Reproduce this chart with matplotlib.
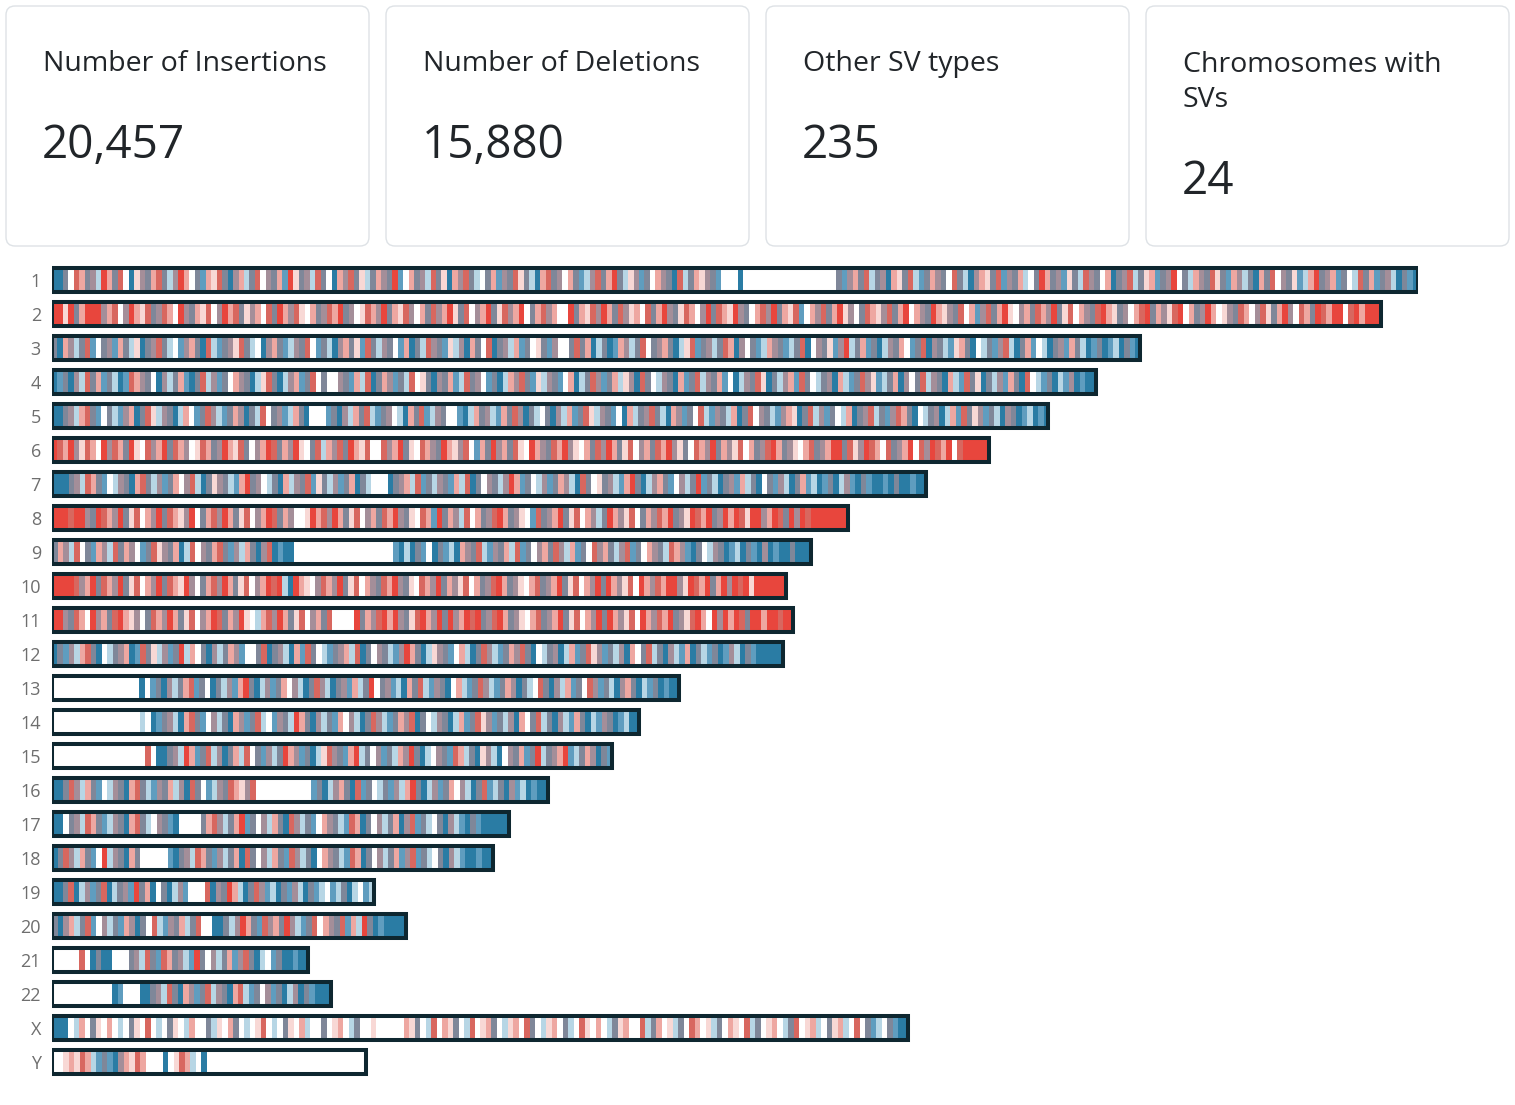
import numpy as np
import matplotlib.pyplot as plt
from matplotlib.colors import ListedColormap
from matplotlib.patches import FancyBboxPatch, Rectangle

plt.rcParams['font.family'] = ['Open Sans', 'DejaVu Sans']

# summary cards
card_titles = ["Number of Insertions", "Number of Deletions", "Other SV types", "Chromosomes with\nSVs"]
card_values = ["20,457", "15,880", "235", "24"]

# chromosomes and their lengths (Mb)
chrom_names = [str(i) for i in range(1, 23)] + ["X", "Y"]
chrom_lengths = [248.96, 242.19, 198.30, 190.21, 181.54, 170.81, 159.35, 145.14,
                 138.39, 133.80, 135.09, 133.28, 114.36, 107.04, 101.99, 90.34,
                 83.26, 80.37, 58.62, 64.44, 46.71, 50.82, 156.04, 57.23]

# binned SV profile, ~1 Mb per character
# B/b/c = insertion heavy (dark..light blue), g/m = mixed, r/R/p/q = deletion heavy, w = none
chrom_bins = [
    # 1
    "BBgwrpgmcR pgrwBqmgpr gcmRpwgbpq rgBmpcgrwm gpbRqgmcrg wBpmrgqcgp mgRbwpgmcr "
    "gqBpmrgcwg pbmgrqgcBp rgmwpgbcmr gpRgcqmbgw pmgBrcgpqm gbwwwBwwww wwwwwwwwww "
    "wwwgbmpgrc gmBpqgrcbg pmgwrgcBmp qgrbmgpcwg Rpgmbqgcrm gwpBgmrcgq pbgmRwgcpm "
    "grqgbpmcgB pgrwmgqbcp Rgmpbgwcrg pbgmcBgbB",
    # 2
    "RRqRgpRRRm prwmRpqrgm rpwRmgpqrw mRprgqmpwr gRpmrqwpgm rpRgmwqrpm Rgpqrmwpgr "
    "mpRqgrwmpR gqrmpRwgpr mpwwRgpqrm Rpgrmqpwrg pRmgqrpwmR grpqRmgwpr mRgpqrbwpm "
    "rgpRqmwgrp qmrgpRwpmg Rpqmgrwpbm rgpRqwmpgr pmRgqrwpmg rRpqgmwprR gpmqrRwpgm "
    "Rpwqmgrpwm rqgpRmwrpg RrpRRwrRpR RR",
    # 3
    "gBpmcgrbwg mbpgcqBgmr gcwbmpgBrc bgmqrgcwBm pgbcmgrwbg cBmpgqbrgc mgwbpBgcrm "
    "gbqcmBpgwr Bgmcpbgwqg bmwwgrgpBc gBbpmcgrwg mpgBcqrbgm cgrpBmwgbc pmgbcgrBwm "
    "gqbmRcgpbg BcmgpwbgrB mgcbqpgBwc gbmrcBgpbw cBgmbpgcBb gBbcBgbB",
    # 4
    "BbgBmcrgpb gcBbrpmgwB mcgpbBgrcm bgwpmgBcqr gBcmpbgrwg wwmgbpcrBg pmbgcrwqgB "
    "mgpbcrgmwb gBcpmrgbqc mgbwpBcgrm bgpcqmBrgw cmgBpbgrcm gpbwBcmgrq Bgcmpbrgwc "
    "gmBpcbgrmq bcgpBmwgrc mgBpcbrgqB gcmbpgBrwc bgBcbmBbBB",
    # 5
    "BBgmcprgbw gcbmpBgrqc mgBcpwbgrm cbgpmBgcrw gmbcpgBwww bgBmcpgrcb gmwcBpgrbc "
    "mgwwbBcpgm cbpgrmBgcw gBmcpbgrqc mgbwBpcgmr gcBpmbgwrc bmgcpBgrwm gcbmpqBgrc "
    "mbgwcpBgmr cgbmrpgBwc gmBcpbrgqm bgcBmgBbcB bB",
    # 6
    "RrpRmqrpwR mrpgRqwrmp Rgrpmwqrpg mRpqrgwmpR rgpmRqwgrc pmrgRpqrww rmpRgqwrpm "
    "gRpqmrwbpg RmpgrqwRpm grpRmqwpgr mRpgqrwmpg rpRmqgwrpm Rgpmqrwpgm rRpgmqwprg "
    "mpRRgrqmRr pwrgmpRwrm RrpRwrRRRR R",
    # 7
    "BBBgmcrpgb wcmgBprgcm bgpwmrcBgq mgcbpRgmwc gBpcmgrbqg cmbgpBgcww wBgmpcrbgc "
    "mgbpcrBgwm gcmRpbgwcm bgpmcBrgwq gmcbpRgBcm pgbwmcgRbg cBgmbpcgBw gbmcBgpbcB "
    "bgBcmbBgbB BbBgBBbBB",
    # 8
    "RRRrRRmgRr pmRgqrwpmR grpqmRwgpr mRpgqrwmpR rgpmwwqRpr mRpgqrwmpg rpRmgqwrpb "
    "Rgpmcrwpgm rRpgmqwbrg mpRgqrwpmc gRpmqrwgpm rpRgmqRrpR gmRpRrqRRm pRrgRmRrRR "
    "RRRRR",
    # 9
    "gpmcrwgbpm crgpmwbgrq mgpBcrwmgp rgbmcpgBmr BbBBwwwwww wwwwwwwwww wwbBcBgbwB "
    "gbcBpmgrcb mgpcrbgwmp grmcpbgwrm pgcmrbgwpm gcrpmbBgwc mgBbcBgbBm BbBBgBBB",
    # 10
    "RRRRrmpRgr pmRgqrwpmR grpqRmwgpr mRpgqrwmpR rRcBRpqwmr pmRgqrwpmg rpRmgqwrpm "
    "Rgpmqrwpgm rRpgmqwprg mpRgqrwpmR gRpmqrwRpm rpRRmqRrpR gpRmRrRqRR RRRR",
    # 11
    "RRmgrpwRmp grRpqmwgrp mRpgqrwmpR rgpmRqwcpr mRpgqrwmpg rwwwwRgpmr RpRmgqrRpm "
    "RgRmpRrRgm rRpgmqwprg mpRgqrwpmR gRpmqrwRpm rpRgmqrRpw RmRpRrgRRp RRrRR",
    # 12
    "BgbmcprgBw cgmpBbrgqc mbgRcpwgBm cgpmbwwgrB gmcBpbrgwc bgmpcrBgwm gcbmRpgBcq "
    "mgbwpcBgrm cbgpmrgBwc gmBcpbgrqm bgcmBpwgrc gBmcbpBgcb gBbmcBgbBB BBB",
    # 13
    "wwwwwwwwww wwwwwwBwbg BmcgprbgwB gcmbpRgBcm bgpwmcBgrm cBgmbpcgRw gmbcBpgrcb "
    "mgBwpcbgrm cbgpmBgcwr gBmcpbgwrm bgcBmpgBcb gBbBB",
    # 14
    "wwwwwwwwww wwwwwwcwBb gmcBprgbwm cgBpmbgrcw bmgcRpgBmc gbpwmcBgrm cbgpmrBgwc "
    "mgBcpbgrqm bgcmBpwgrc gBmcbpgBcb mgBbcBB",
    # 15
    "wwwwwwwwww wwwwwwwrwB BgmcRpbgrc mBgpcrwgbm cgRpmbgBcq rmgbpRcgwm bgcpmRgBcw "
    "mgbrpcgBqm cBwmgpbgRc gmpRbcgpmB gb",
    # 16
    "BBgrmcpgbw cmgBprgcbm gpcmBrgwbc mgrpqmrwww wwwwwwwbgB cmpgBrbgwc gbmcpRgBcm "
    "bgpwmcBgrb cgBmbcBbBB",
    # 17
    "BBwgmcrpgb cmgBprgcwm gbBwwwwgpr mcgpRbgwmc pgBrmcgbwp mgcbrpBgwm cgpBmrbgcw "
    "gBmcbBgbBB BBB",
    # 18
    "BgrmcpgbwR cmgBpgwwww wbBgmcrpgb mcgpBrgwmc pgbrmcgBwp mgcbrpBgwm cgpbmrbgcw "
    "gBmcbBBbBB",
    # 19
    "BBgrBcmbgr BcgmbRgpBw gBcmbwwwrB mgRpcBgrmb cBgbmcBgbc wbcgBcwbc",
    # 20
    "gBmpcgrbwm cgbpmBgwrc bmgpcgrwwB BgcmRpgbrm pgRmcbgrwp mgrbpcRgBb BBBB",
    # 21
    "wwwwwrwBgB Bwwwgmcrgb rpgmcbRgwm cgpbmrgBcw bgBBbBB",
    # 22
    "wwwwwwwwww wBbwwwBBgm crgBpmbgrc mgBprcbgwm bgBcmBgbBB B",
    # X
    "BBBwcpwgqw pwcwgqwrwc wgqwcpwwgc qwpgwcwqrw cwgqwpcwwg wqpwcgwwqw wwwwpqgwcr "
    "wpqgwcrwqp gwcqpwrgwc qpwgcwrqwp wcgqpwwrcg pwqcgwrpwq cgwpqwrcgw qpwcgrwqpc "
    "wgqpcwrwgb cwgbBB",
    # Y
    "wwqpqrpcbg bBmpqrpwww BwqrpcwBww wwwwwwwwww wwwwwwwwww wwwwwww",
]

palette = {
    'w': '#ffffff',
    'B': '#2a7ca4',
    'b': '#5f9dbf',
    'c': '#b7d6e5',
    'g': '#7f8799',
    'm': '#a48e99',
    'q': '#f8d8d5',
    'p': '#eea7a1',
    'r': '#d8675f',
    'R': '#e8463d',
}
codes = list(palette)
cmap = ListedColormap([palette[c] for c in codes])

fig = plt.figure(figsize=(15.15, 11.05), dpi=100)

# card row, drawn in pixel coordinates
bg = fig.add_axes([0, 0, 1, 1])
bg.set_xlim(0, 1515)
bg.set_ylim(1105, 0)
bg.axis('off')

card_x = [6, 386, 766, 1146]
for x, title, value in zip(card_x, card_titles, card_values):
    bg.add_patch(FancyBboxPatch((x, 6), 363, 240, boxstyle='round,pad=0,rounding_size=9',
                                fc='white', ec='#dee2e6', lw=1.0))
    n_lines = title.count('\n')
    # baseline alignment refers to the last line of a multi-line text
    bg.text(x + 37, 71 + 36 * n_lines, title, fontsize=20.5, color='#212529',
            fontweight='medium', va='baseline', ha='left', linespacing=1.32)
    bg.text(x + 36, 158 + 36 * n_lines, value, fontsize=33, color='#212529',
            fontweight='normal', va='baseline', ha='left')

# chromosome ideogram
ax = fig.add_axes([52 / 1515, 1 - 1079 / 1105, 1366 / 1515, 816 / 1105])
half = 0.34
for i, (length, bins) in enumerate(zip(chrom_lengths, chrom_bins)):
    s = ''.join(bins.split())
    row = np.array([[codes.index(c) for c in s]])
    ax.imshow(row, cmap=cmap, vmin=-0.5, vmax=len(codes) - 0.5, aspect='auto',
              interpolation='nearest', extent=(0, length, i + half, i - half))
    ax.add_patch(Rectangle((0, i - half), length, 2 * half, fill=False,
                           ec='#0e2730', lw=2.9, zorder=3))

ax.set_xlim(0, chrom_lengths[0])
ax.set_ylim(23.5, -0.5)
ax.set_yticks(range(len(chrom_names)))
ax.set_yticklabels(chrom_names, fontsize=13, color='#6e6e6e')
ax.tick_params(axis='y', length=0, pad=8)
ax.set_xticks([])
for sp in ax.spines.values():
    sp.set_visible(False)

fig.savefig('out.png', dpi=100, facecolor='white')
